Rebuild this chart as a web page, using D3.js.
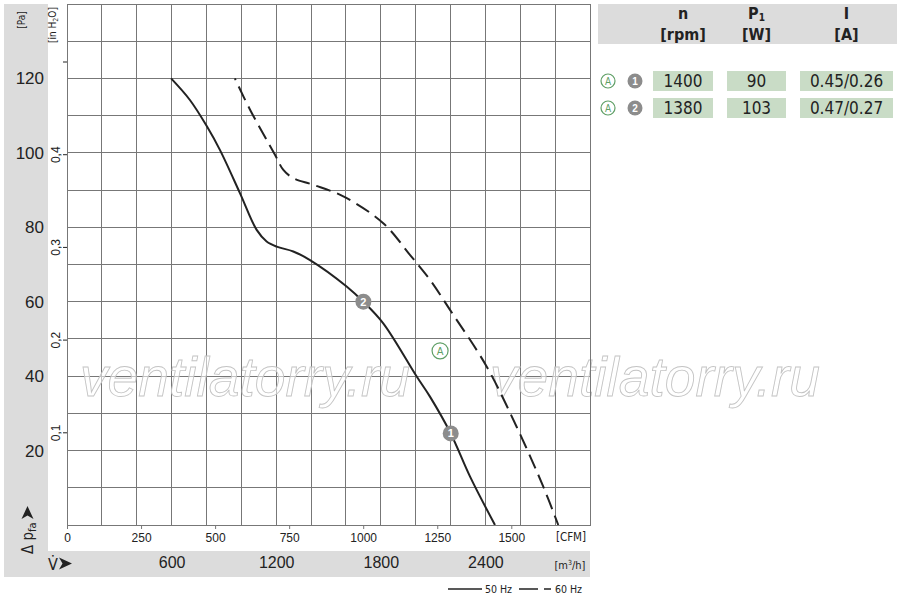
<!DOCTYPE html>
<html><head><meta charset="utf-8">
<script src="https://cdn.jsdelivr.net/npm/d3@7"></script>
<style>
body{margin:0;background:#fff;}
svg{display:block;font-family:"Liberation Sans Narrow","DejaVu Sans Condensed","Liberation Sans",sans-serif;}
</style></head><body>
<svg id="c" width="900" height="600"></svg>
<script>
// ---- data ----
const flowM3h_50 = [597, 705, 804, 877, 992, 1088, 1145, 1203, 1298, 1394, 1604, 1700, 1814, 2006, 2082, 2201, 2312, 2455];
const press_50   = [120, 114.2, 107, 100.8, 89.2, 79.3, 76.2, 74.8, 73.5, 71.2, 64.1, 60, 54.2, 39.9, 34.5, 24.6, 13, 0];
const flowM3h_60 = [963, 1050, 1193, 1241, 1298, 1413, 1585, 1814, 1967, 2082, 2197, 2407, 2579, 2732, 2818];
const press_60   = [120, 111.6, 99.5, 95.4, 93.2, 91.4, 88.3, 81.1, 72.6, 65.9, 57.8, 42.6, 26.4, 10.3, 0];
const opPoints = [{id:"1", v:2201, p:24.6}, {id:"2", v:1700, p:60}];
const regionLabel = {id:"A", v:2140, p:46.8};
const paTicks = [20, 40, 60, 80, 100, 120];
const inH2OTicks = [0.1, 0.2, 0.3, 0.4, 0.5];
const cfmTicks = [0, 250, 500, 750, 1000, 1250, 1500];
const m3hTicks = [600, 1200, 1800, 2400];
const tableHeaders = [["n","[rpm]"],["P","[W]"],["I","[A]"]];
const tableRows = [
  {curve:"1", n:"1400", p:"90",  i:"0.45/0.26"},
  {curve:"2", n:"1380", p:"103", i:"0.47/0.27"}
];
const watermark = "ventilatorry.ru";

// ---- layout ----
const svg = d3.select("#c");
const L=67, R=590, T=4, B=525;
const x = d3.scaleLinear().domain([0,3000]).range([L,R]);
const y = d3.scaleLinear().domain([0,140]).range([B,T]);
const CFM = 1.699, INH2O = 249.09;
const xCFM = d3.scaleLinear().domain([0,3000/CFM]).range([L,R]);
const yIn = d3.scaleLinear().domain([0,140/INH2O]).range([B,T]);
const gray = "#dcdcdc", gridC = "#777", ink = "#222";

// gray panels
svg.append("rect").attr("x",4).attr("y",4).attr("width",44).attr("height",547).attr("fill",gray);
svg.append("rect").attr("x",4).attr("y",551).attr("width",586).attr("height",26).attr("fill",gray);

// grid
const grid = svg.append("g");
grid.selectAll("line.v").data(d3.range(0,3001,200)).join("line")
  .attr("x1",d=>x(d)).attr("x2",d=>x(d)).attr("y1",T).attr("y2",B)
  .attr("stroke",gridC).attr("stroke-width",1).attr("shape-rendering","crispEdges");
grid.selectAll("line.h").data(d3.range(0,141,10)).join("line")
  .attr("y1",d=>y(d)).attr("y2",d=>y(d)).attr("x1",L).attr("x2",R)
  .attr("stroke",gridC).attr("stroke-width",1).attr("shape-rendering","crispEdges");

// watermark
[80, 490].forEach(wx=>{
  svg.append("text").attr("x",wx).attr("y",396).text(watermark)
    .attr("font-family","'Liberation Sans',Arial,sans-serif").attr("font-style","italic")
    .attr("font-size",56).attr("textLength",330).attr("lengthAdjust","spacingAndGlyphs")
    .attr("fill","#fff").attr("fill-opacity",0.55).attr("stroke","#c4c4c4").attr("stroke-width",0.9);
});

// Pa axis labels
const gPa = svg.append("g").attr("transform",`translate(48,0)`)
  .call(d3.axisLeft(y).tickValues(paTicks).tickSize(0).tickPadding(4));
gPa.select(".domain").remove();
gPa.selectAll("text").attr("font-size",17).attr("fill",ink).attr("font-family",null);

// inH2O axis
const gIn = svg.append("g").attr("transform",`translate(${L},0)`)
  .call(d3.axisLeft(yIn).tickValues(inH2OTicks).tickSize(4)
    .tickFormat(d=> d>=0.5 ? "" : d3.format(".1f")(d).replace(".",",")));
gIn.select(".domain").remove();
gIn.selectAll("line").attr("stroke",ink);
gIn.selectAll("text").attr("transform","rotate(-90)").attr("x",0).attr("y",-7).attr("dy",0)
  .attr("text-anchor","middle").attr("font-size",12).attr("fill",ink).attr("font-family",null);

// unit labels left
svg.append("text").attr("transform","translate(25,20) rotate(-90)").attr("text-anchor","middle")
  .attr("font-size",10).attr("fill",ink).text("[Pa]");
const inLbl = svg.append("text").attr("transform","translate(56,25) rotate(-90)").attr("text-anchor","middle")
  .attr("font-size",10).attr("fill",ink);
inLbl.append("tspan").text("[in H");
inLbl.append("tspan").attr("font-size",7).attr("dy",2).text("2");
inLbl.append("tspan").attr("dy",-2).text("O]");

// Δp label + arrow
const dp = svg.append("text").attr("transform","translate(33,554) rotate(-90)").attr("font-size",15).attr("fill",ink);
dp.append("tspan").text("Δ p");
dp.append("tspan").attr("font-size",11).attr("dy",3).text("fa");
svg.append("path").attr("d","M27.5,506 L33.5,519 L27.5,515.5 L21.5,519 Z").attr("fill",ink);

// CFM axis
const gC = svg.append("g").attr("transform",`translate(0,${B})`)
  .call(d3.axisBottom(xCFM).tickValues(cfmTicks).tickSize(4).tickPadding(4).tickFormat(d3.format("d")));
gC.select(".domain").remove();
gC.selectAll("line").attr("stroke",gridC);
gC.selectAll("text").attr("font-size",12).attr("fill",ink).attr("font-family",null);
svg.append("text").attr("x",571).attr("y",541).attr("text-anchor","middle").attr("font-size",11.5).attr("fill",ink).text("[CFM]");

// m3/h axis
const gM = svg.append("g").attr("transform",`translate(0,551)`)
  .call(d3.axisBottom(x).tickValues(m3hTicks).tickSize(0).tickPadding(6).tickFormat(d3.format("d")));
gM.select(".domain").remove();
gM.selectAll("text").attr("font-size",16).attr("fill",ink).attr("font-family",null);
const mu = svg.append("text").attr("x",570).attr("y",569).attr("text-anchor","middle").attr("font-size",11).attr("fill",ink);
mu.append("tspan").text("[m");
mu.append("tspan").attr("font-size",7).attr("dy",-4).text("3");
mu.append("tspan").attr("dy",4).text("/h]");
svg.append("text").attr("x",48).attr("y",570).attr("font-size",16).attr("fill",ink).text("V\u0307");
svg.append("path").attr("d","M72,563.5 L59,557.5 L62.5,563.5 L59,569.5 Z").attr("fill",ink);

// curves
const line = d3.line().x(d=>x(d[0])).y(d=>y(d[1])).curve(d3.curveCatmullRom.alpha(0.5));
const c50 = flowM3h_50.map((v,i)=>[v,press_50[i]]);
const c60 = flowM3h_60.map((v,i)=>[v,press_60[i]]);
svg.append("path").attr("d",line(c50)).attr("fill","none").attr("stroke",ink).attr("stroke-width",2);
svg.append("path").attr("d",line(c60)).attr("fill","none").attr("stroke",ink).attr("stroke-width",2)
  .attr("stroke-dasharray","15,7").attr("stroke-dashoffset",13);

// plot border
svg.append("rect").attr("x",L).attr("y",T).attr("width",R-L).attr("height",B-T)
  .attr("fill","none").attr("stroke",gridC).attr("stroke-width",1).attr("shape-rendering","crispEdges");

// operating points
const op = svg.selectAll("g.op").data(opPoints).join("g").attr("transform",d=>`translate(${x(d.v)},${y(d.p)})`);
op.append("circle").attr("r",8).attr("fill","#8c8c8c");
op.append("text").attr("text-anchor","middle").attr("dy","0.36em").attr("font-size",11).attr("font-weight","bold")
  .attr("fill","#fff").attr("font-family","'Liberation Sans',Arial,sans-serif").text(d=>d.id);
const gA = svg.append("g").attr("transform",`translate(${x(regionLabel.v)},${y(regionLabel.p)})`);
gA.append("circle").attr("r",8).attr("fill","#fff").attr("stroke","#5f9f66").attr("stroke-width",1.2);
gA.append("text").attr("text-anchor","middle").attr("dy","0.36em").attr("font-size",11).attr("fill","#5f9f66").text(regionLabel.id);

// legend
svg.append("line").attr("x1",448).attr("x2",482).attr("y1",589).attr("y2",589).attr("stroke",ink).attr("stroke-width",1.5);
svg.append("text").attr("x",485).attr("y",593).attr("font-size",10.5).attr("fill",ink).text("50 Hz");
svg.append("line").attr("x1",519).attr("x2",551).attr("y1",589).attr("y2",589).attr("stroke",ink).attr("stroke-width",1.5)
  .attr("stroke-dasharray","19,6,10");
svg.append("text").attr("x",555).attr("y",593).attr("font-size",10.5).attr("fill",ink).text("60 Hz");

// table
svg.append("rect").attr("x",598).attr("y",4).attr("width",299).attr("height",40).attr("fill",gray);
const colX = [683, 756.5, 846.5];
const colW = [[653,713],[727,786],[800,893]];
tableHeaders.forEach((h,i)=>{
  const t = svg.append("text").attr("x",colX[i]).attr("y",19).attr("text-anchor","middle")
    .attr("font-size",16).attr("font-weight","bold").attr("fill",ink);
  t.append("tspan").text(h[0]);
  if(h[0]==="P") t.append("tspan").attr("font-size",10).attr("dy",2).text("1");
  svg.append("text").attr("x",colX[i]).attr("y",40).attr("text-anchor","middle")
    .attr("font-size",16).attr("font-weight","bold").attr("fill",ink).text(h[1]);
});
tableRows.forEach((r,j)=>{
  const ry = 71 + j*27;
  const vals = [r.n, r.p, r.i];
  colW.forEach((c,i)=>{
    svg.append("rect").attr("x",c[0]).attr("y",ry).attr("width",c[1]-c[0]).attr("height",20).attr("fill","#c9dcc6");
    svg.append("text").attr("x",(c[0]+c[1])/2).attr("y",ry+16).attr("text-anchor","middle")
      .attr("font-size",17).attr("fill",ink).text(vals[i]);
  });
  svg.append("circle").attr("cx",608).attr("cy",ry+10).attr("r",7).attr("fill","#fff").attr("stroke","#5f9f66").attr("stroke-width",1.2);
  svg.append("text").attr("x",608).attr("y",ry+10).attr("dy","0.36em").attr("text-anchor","middle").attr("font-size",10).attr("fill","#5f9f66").text("A");
  svg.append("circle").attr("cx",635).attr("cy",ry+10).attr("r",7.5).attr("fill","#8c8c8c");
  svg.append("text").attr("x",635).attr("y",ry+10).attr("dy","0.36em").attr("text-anchor","middle").attr("font-size",10)
    .attr("font-weight","bold").attr("font-family","'Liberation Sans',Arial,sans-serif").attr("fill","#fff").text(r.curve);
});
</script></body></html>
